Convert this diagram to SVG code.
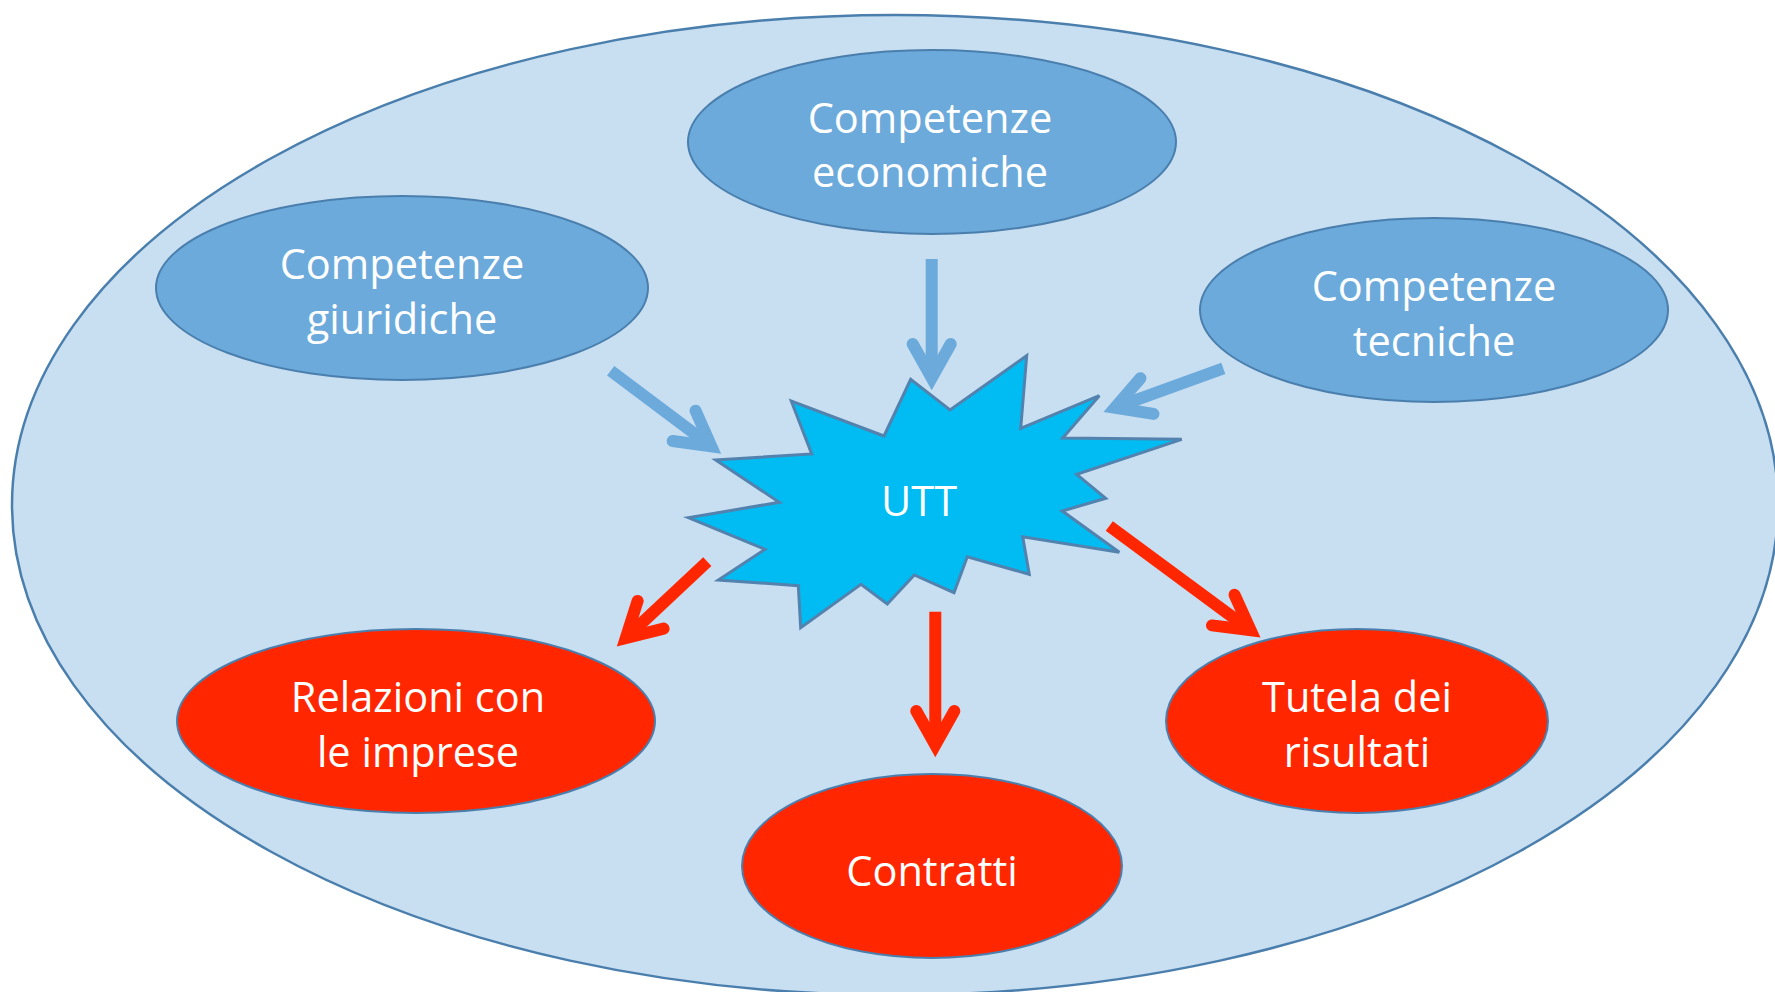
<svg xmlns="http://www.w3.org/2000/svg" width="1775" height="992" viewBox="0 0 1775 992">
<style>
.bg{fill:#C8DEF1;stroke:#4A7FAD;stroke-width:2.5}
.blue{fill:#6BAADB;stroke:#4A7FAD;stroke-width:2}
.red{fill:#FF2600;stroke:#4A7FAD;stroke-width:2}
.star{fill:#00BCF2;stroke:#5282AD;stroke-width:3;stroke-linejoin:miter}
.t{font-family:"Open Sans","Liberation Sans",sans-serif;font-size:41.5px;fill:#FFFFFF;text-anchor:middle}
.sb{stroke:#6BAADB;stroke-width:12;fill:none;stroke-linecap:butt}
.sr{stroke:#FF2600;stroke-width:12;fill:none;stroke-linecap:butt}
.hb{stroke:#6BAADB;stroke-width:12;fill:none;stroke-linecap:round;stroke-linejoin:miter;stroke-miterlimit:10}
.hr{stroke:#FF2600;stroke-width:12;fill:none;stroke-linecap:round;stroke-linejoin:miter;stroke-miterlimit:10}
</style>
<defs>
<marker id="ab" markerUnits="userSpaceOnUse" orient="auto" refX="0" refY="0" markerWidth="80" markerHeight="80" overflow="visible">
<path class="hb" d="M -34 -19 L 0 0 L -34 19"/>
</marker>
<marker id="ar" markerUnits="userSpaceOnUse" orient="auto" refX="0" refY="0" markerWidth="80" markerHeight="80" overflow="visible">
<path class="hr" d="M -34 -19 L 0 0 L -34 19"/>
</marker>
</defs>
<rect width="1775" height="992" fill="#FFFFFF"/>
<g id="container">
<ellipse class="bg" cx="895" cy="505" rx="883" ry="490"/>
</g>
<g id="n-economiche">
<ellipse class="blue" cx="932" cy="142" rx="244" ry="92"/>
<text class="t" x="930" y="133">Competenze</text>
<text class="t" x="930" y="187">economiche</text>
</g>
<g id="n-giuridiche">
<ellipse class="blue" cx="402" cy="288" rx="246" ry="92"/>
<text class="t" x="402" y="279">Competenze</text>
<text class="t" x="402" y="334">giuridiche</text>
</g>
<g id="n-tecniche">
<ellipse class="blue" cx="1434" cy="310" rx="234" ry="92"/>
<text class="t" x="1434" y="301">Competenze</text>
<text class="t" x="1434" y="356">tecniche</text>
</g>
<g id="n-utt">
<polygon class="star" points="688.3,517.7 779.3,502.3 715.7,460 811.7,454 791.3,401 884,436 910.7,379.3 950,410 1026.7,355.7 1020.7,428.3 1099.3,395.7 1062.7,438 1181.7,439.3 1076.7,474.3 1105.7,498.3 1062.3,511 1119.3,552.3 1022.7,536.7 1029.3,574.3 967.3,556.7 954,592.7 914.3,575 887.3,604 861,584.3 800.7,627.7 798.3,585.7 718.3,580 765,549.3"/>
<text class="t" x="919" y="516">UTT</text>
</g>
<g id="n-relazioni">
<ellipse class="red" cx="416" cy="721" rx="239" ry="92"/>
<text class="t" x="418" y="712">Relazioni con</text>
<text class="t" x="418" y="767">le imprese</text>
</g>
<g id="n-contratti">
<ellipse class="red" cx="932" cy="866" rx="190" ry="92"/>
<text class="t" x="932" y="886">Contratti</text>
</g>
<g id="n-tutela">
<ellipse class="red" cx="1357" cy="721" rx="191" ry="92"/>
<text class="t" x="1357" y="712">Tutela dei</text>
<text class="t" x="1357" y="767">risultati</text>
</g>
<g id="connectors">
<line class="sb" x1="610.7" y1="370.7" x2="711.3" y2="446.3" marker-end="url(#ab)"/>
<line class="sb" x1="931.7" y1="259" x2="931.7" y2="378" marker-end="url(#ab)"/>
<line class="sb" x1="1223.3" y1="368.3" x2="1115" y2="407.7" marker-end="url(#ab)"/>
<line class="sr" x1="1109.3" y1="526" x2="1250.6" y2="630.3" marker-end="url(#ar)"/>
<line class="sr" x1="707.3" y1="561.7" x2="625.8" y2="638" marker-end="url(#ar)"/>
<line class="sr" x1="935.3" y1="611.7" x2="935.3" y2="745" marker-end="url(#ar)"/>
</g>
</svg>
